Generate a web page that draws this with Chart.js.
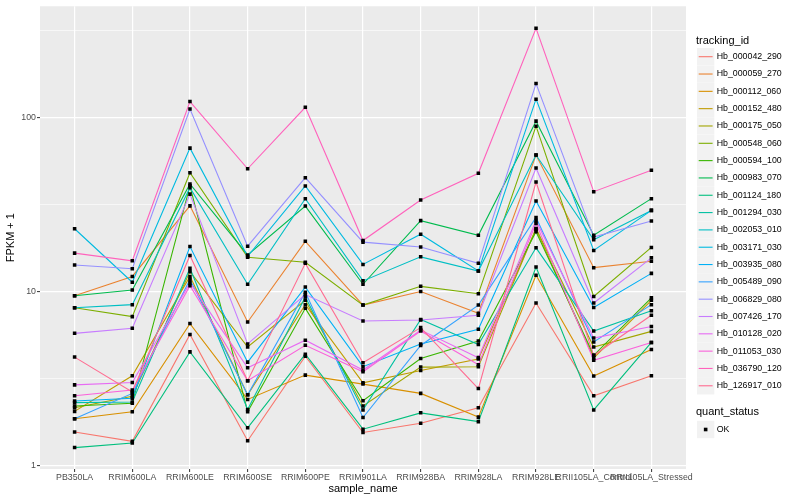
<!DOCTYPE html>
<html>
<head>
<meta charset="utf-8">
<script src="https://cdn.jsdelivr.net/npm/chart.js@4.4.1/dist/chart.umd.min.js"></script>
<style>
  html, body { margin: 0; padding: 0; background: #fff; }
  #wrap { width: 800px; height: 500px; }
</style>
</head>
<body>
<div id="wrap"><canvas id="chart" width="800" height="500"></canvas></div>
<script>
// categories on the x axis
const sampleNames = ['PB350LA', 'RRIM600LA', 'RRIM600LE', 'RRIM600SE', 'RRIM600PE', 'RRIM901LA',
  'RRIM928BA', 'RRIM928LA', 'RRIM928LE', 'RRII105LA_Control', 'RRII105LA_Stressed'];

const trackingIds = ['Hb_000042_290', 'Hb_000059_270', 'Hb_000112_060', 'Hb_000152_480', 'Hb_000175_050',
  'Hb_000548_060', 'Hb_000594_100', 'Hb_000983_070', 'Hb_001124_180', 'Hb_001294_030',
  'Hb_002053_010', 'Hb_003171_030', 'Hb_003935_080', 'Hb_005489_090', 'Hb_006829_080',
  'Hb_007426_170', 'Hb_010128_020', 'Hb_011053_030', 'Hb_036790_120', 'Hb_126917_010'];

// FPKM + 1 per sample
const hb_000042_290 = [1.56, 1.38, 5.66, 1.39, 4.25, 1.55, 1.75, 2.15, 8.58, 2.52, 3.28];
const hb_000059_270 = [9.45, 12.2, 31, 6.68, 19.4, 8.35, 10.0, 7.5, 60.7, 13.7, 14.9];
const hb_000112_060 = [1.86, 2.04, 6.54, 2.4, 3.31, 2.94, 2.6, 1.9, 12.4, 3.27, 4.64];
const hb_000152_480 = [2.05, 3.28, 12.2, 2.55, 8.4, 2.99, 3.52, 4.1, 22.8, 4.15, 8.9];
const hb_000175_050 = [2.15, 2.5, 13.0, 4.8, 8.9, 2.2, 3.68, 3.7, 23, 4.8, 5.9];
const hb_000548_060 = [8.07, 7.17, 48, 15.7, 14.7, 8.35, 10.7, 9.7, 88.9, 9.36, 17.9];
const hb_000594_100 = [2.2, 2.28, 40.4, 2.04, 8.0, 2.36, 4.12, 5.2, 22, 4.3, 9.2];
const hb_000983_070 = [9.45, 10.2, 41.4, 16.2, 30.9, 11.0, 25.5, 21, 95, 21, 34.1];
const hb_001124_180 = [1.27, 1.35, 4.5, 1.65, 4.36, 1.62, 2.01, 1.79, 13.8, 2.09, 5.1];
const hb_001294_030 = [2.3, 2.32, 13.6, 2.1, 9.3, 2.09, 6.9, 4.96, 17.8, 5.93, 7.76];
const hb_002053_010 = [8.07, 8.4, 39.4, 11.0, 34.1, 11.5, 15.8, 13.1, 60.7, 19.8, 29.2];
const hb_003171_030 = [22.9, 11.3, 66.5, 15.9, 40.3, 14.3, 21.3, 13.1, 127, 17.2, 29.2];
const hb_003935_080 = [2.35, 2.44, 18.1, 3.93, 10.6, 3.7, 5.0, 6.07, 33.1, 8.1, 12.7];
const hb_005489_090 = [1.86, 2.6, 11.7, 2.55, 9.9, 1.89, 4.9, 8.35, 26.6, 5.13, 8.4];
const hb_006829_080 = [14.2, 13.5, 111.5, 18.2, 45, 19.2, 18.0, 14.5, 156, 20.5, 25.4];
const hb_007426_170 = [5.75, 6.15, 36.2, 5.0, 9.6, 6.77, 6.86, 7.3, 51.1, 8.58, 15.6];
const hb_010128_020 = [2.91, 3.0, 11.2, 3.65, 5.25, 3.54, 6.0, 4.17, 25.5, 5.4, 6.3];
const hb_011053_030 = [2.52, 2.72, 10.8, 3.07, 4.91, 3.46, 5.93, 3.8, 24.6, 4.03, 5.1];
const hb_036790_120 = [16.6, 15.0, 123, 50.6, 114, 19.6, 33.5, 47.7, 324, 37.4, 49.6];
const hb_126917_010 = [4.2, 2.65, 16.1, 3.07, 14.5, 3.9, 6.2, 2.77, 42.5, 4.3, 7.3];

const seriesValues = [hb_000042_290, hb_000059_270, hb_000112_060, hb_000152_480, hb_000175_050,
  hb_000548_060, hb_000594_100, hb_000983_070, hb_001124_180, hb_001294_030,
  hb_002053_010, hb_003171_030, hb_003935_080, hb_005489_090, hb_006829_080,
  hb_007426_170, hb_010128_020, hb_011053_030, hb_036790_120, hb_126917_010];

const majorTicks = [1, 10, 100];
const minorTicks = [3.1623, 31.623, 316.23];
const statusLabels = ['OK'];

// ggplot hue palette for 20 levels
const colors = ['#F8766D', '#EA8331', '#D89000', '#C09B00', '#A3A500', '#7CAE00', '#39B600', '#00BB4E',
  '#00BF7D', '#00C1A3', '#00BFC4', '#00BAE0', '#00B0F6', '#35A2FF', '#9590FF', '#C77CFF',
  '#E76BF3', '#FA62DB', '#FF62BC', '#FF6C91'];

const FONT = "'Liberation Sans', Arial, Helvetica, sans-serif";

function isMajor(v) {
  return majorTicks.some(m => Math.abs(m - v) < 1e-6);
}

function toPoints(values) {
  return values.map((v, i) => ({ x: i, y: v }));
}

const lineSets = seriesValues.map((vals, i) => ({
  label: trackingIds[i],
  data: toPoints(vals),
  showLine: true,
  borderColor: colors[i],
  backgroundColor: colors[i],
  borderWidth: 1.1,
  pointRadius: 0,
  tension: 0,
  fill: false,
  order: -i
}));

const pointSets = seriesValues.map((vals, i) => ({
  label: trackingIds[i] + ' ' + statusLabels[0],
  data: toPoints(vals),
  showLine: false,
  pointStyle: 'rect',
  pointRadius: 2.5,
  pointBorderWidth: 0,
  pointBackgroundColor: '#000',
  borderColor: '#000',
  order: -1000
}));

const backdrop = {
  id: 'backdrop',
  beforeDraw(chart) {
    const { ctx, chartArea: a } = chart;
    ctx.save();
    ctx.fillStyle = '#fff';
    ctx.fillRect(0, 0, chart.width, chart.height);
    ctx.fillStyle = '#EBEBEB';
    ctx.fillRect(a.left, a.top, a.right - a.left, a.bottom - a.top);
    ctx.restore();
  }
};

// axis titles + the two ggplot style legends on the right
const decorations = {
  id: 'decorations',
  afterDraw(chart) {
    const { ctx, chartArea: a } = chart;
    ctx.save();
    ctx.fillStyle = '#000';
    ctx.font = '11px ' + FONT;
    ctx.textBaseline = 'middle';
    ctx.textAlign = 'center';
    ctx.fillText('sample_name', (a.left + a.right) / 2, 489);
    ctx.save();
    ctx.translate(11, (a.top + a.bottom) / 2);
    ctx.rotate(-Math.PI / 2);
    ctx.fillText('FPKM + 1', 0, 0);
    ctx.restore();

    const kx = 697, kw = 17.3, kh = 17.3, step = 17.32;
    ctx.textAlign = 'left';
    ctx.fillText('tracking_id', 696, 40.7);
    ctx.font = '8.8px ' + FONT;
    trackingIds.forEach((name, i) => {
      const cy = 56.7 + i * step;
      ctx.fillStyle = '#F2F2F2';
      ctx.fillRect(kx, cy - kh / 2, kw, kh);
      ctx.strokeStyle = colors[i];
      ctx.lineWidth = 1.1;
      ctx.beginPath();
      ctx.moveTo(kx + 1.7, cy);
      ctx.lineTo(kx + kw - 1.7, cy);
      ctx.stroke();
      ctx.fillStyle = '#000';
      ctx.fillText(name, 716.7, cy);
    });

    ctx.font = '11px ' + FONT;
    ctx.fillText('quant_status', 696, 411.7);
    const oy = 429.5;
    ctx.fillStyle = '#F2F2F2';
    ctx.fillRect(kx, oy - kh / 2, kw, kh);
    ctx.fillStyle = '#000';
    ctx.fillRect(kx + kw / 2 - 1.8, oy - 1.8, 3.6, 3.6);
    ctx.font = '8.8px ' + FONT;
    ctx.fillText(statusLabels[0], 716.7, oy);
    ctx.restore();
  }
};

const config = {
  type: 'scatter',
  data: { datasets: lineSets.concat(pointSets) },
  options: {
    responsive: false,
    animation: false,
    events: [],
    layout: { padding: { top: 5, right: 114, left: 0, bottom: 0 } },
    plugins: { legend: { display: false }, tooltip: { enabled: false } },
    scales: {
      x: {
        type: 'linear',
        min: -0.6,
        max: 10.6,
        afterBuildTicks: s => { s.ticks = sampleNames.map((n, i) => ({ value: i })); },
        afterFit: s => { s.height = 31; },
        border: { display: false },
        grid: { color: '#fff', lineWidth: 1.2, tickColor: '#333333', tickWidth: 1, tickLength: 3 },
        ticks: {
          autoSkip: false, maxRotation: 0, minRotation: 0, padding: 0,
          color: '#4D4D4D', font: { family: FONT, size: 8.8 },
          callback: v => sampleNames[v]
        }
      },
      y: {
        type: 'logarithmic',
        min: 0.957,
        max: 433.5,
        afterBuildTicks: s => {
          s.ticks = majorTicks.concat(minorTicks).sort((a, b) => a - b).map(v => ({ value: v }));
        },
        afterFit: s => { s.width = 40; },
        border: { display: false },
        grid: {
          color: '#fff',
          lineWidth: c => (c.tick && isMajor(c.tick.value)) ? 1.2 : 0.6,
          tickColor: c => (c.tick && isMajor(c.tick.value)) ? '#333333' : 'rgba(0,0,0,0)',
          tickWidth: 1,
          tickLength: 3
        },
        ticks: {
          autoSkip: false, padding: 1,
          color: '#4D4D4D', font: { family: FONT, size: 8.8 },
          callback: v => isMajor(v) ? String(v) : ''
        }
      }
    }
  },
  plugins: [backdrop, decorations]
};

new Chart(document.getElementById('chart').getContext('2d'), config);
</script>
</body>
</html>
